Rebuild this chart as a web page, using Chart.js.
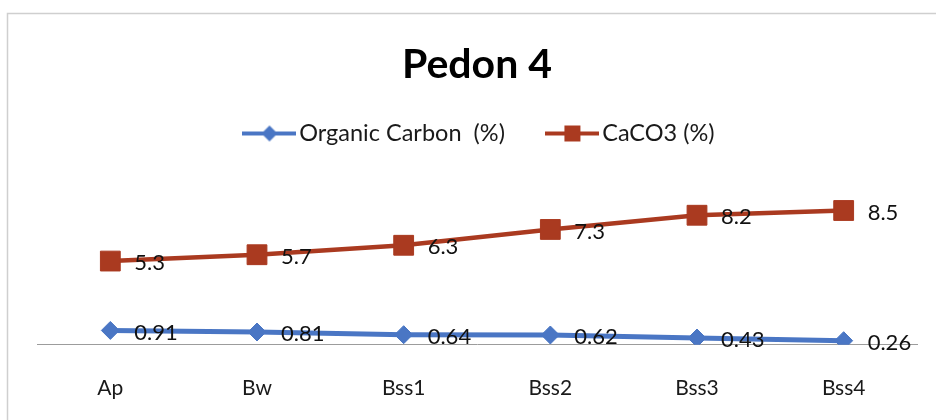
<!DOCTYPE html>
<html>
<head>
<meta charset="utf-8">
<script src="https://cdn.jsdelivr.net/npm/chart.js@4/dist/chart.umd.min.js"></script>
<style>
  html, body { margin: 0; padding: 0; background: #fff; }
  #wrap { position: relative; width: 936px; height: 420px; }
</style>
</head>
<body>
<div id="wrap"><canvas id="myChart"></canvas></div>
<script>
const horizons = ["Ap", "Bw", "Bss1", "Bss2", "Bss3", "Bss4"];
const organicCarbon = [0.91, 0.81, 0.64, 0.62, 0.43, 0.26];
const caco3 = [5.3, 5.7, 6.3, 7.3, 8.2, 8.5];

const blue = "#4a76c4";
const red = "#aa3a20";

// little line + marker picture used as the legend symbol
function legendIcon(color, shape) {
    const c = document.createElement("canvas");
    c.width = 54;
    c.height = 20;
    const g = c.getContext("2d");
    g.strokeStyle = color;
    g.lineWidth = 4;
    g.beginPath();
    g.moveTo(0, 10);
    g.lineTo(54, 10);
    g.stroke();
    g.fillStyle = color;
    g.beginPath();
    if (shape === "diamond") {
        g.moveTo(27, 2); g.lineTo(35, 10); g.lineTo(27, 18); g.lineTo(19, 10);
    } else {
        g.rect(19, 2, 16, 16);
    }
    g.closePath();
    g.fill();
    return c;
}

const valueLabels = {
    id: "valueLabels",
    afterDatasetsDraw(chart) {
        const ctx = chart.ctx;
        ctx.save();
        ctx.font = "22px Lato";
        ctx.fillStyle = "#111";
        ctx.textAlign = "left";
        ctx.textBaseline = "middle";
        chart.data.datasets.forEach((ds, i) => {
            chart.getDatasetMeta(i).data.forEach((pt, j) => {
                ctx.fillText(String(ds.data[j]), pt.x + 24, pt.y + 2);
            });
        });
        ctx.restore();
    }
};

const frame = {
    id: "frame",
    beforeDraw(chart) {
        const ctx = chart.ctx;
        ctx.save();
        ctx.strokeStyle = "#cfcfcf";
        ctx.lineWidth = 1.5;
        ctx.strokeRect(7.5, 13.5, 960, 440);
        ctx.restore();
    }
};

// legend sits a little right of centre in the original
const nudgeLegend = {
    id: "nudgeLegend",
    afterLayout(chart) {
        chart.legend.left += 6;
        chart.legend.right += 6;
    }
};

const icons = [legendIcon(blue, "diamond"), legendIcon(red, "square")];

new Chart("myChart", {
    type: "line",
    data: {
        labels: horizons,
        datasets: [{
            label: "Organic Carbon  (%)",
            data: organicCarbon,
            borderColor: blue,
            backgroundColor: blue,
            borderWidth: 5,
            pointStyle: "rectRot",
            pointRadius: 9,
            pointBorderWidth: 1,
            tension: 0
        }, {
            label: "CaCO3 (%)",
            data: caco3,
            borderColor: red,
            backgroundColor: red,
            borderWidth: 4.5,
            pointStyle: "rect",
            pointRadius: 14,
            pointBorderWidth: 1,
            tension: 0
        }]
    },
    options: {
        responsive: true,
        maintainAspectRatio: false,
        animation: false,
        layout: { padding: { left: 37, right: 19, top: 0, bottom: -12 } },
        scales: {
            x: {
                offset: true,
                grid: { display: false, drawTicks: false },
                border: { display: true, color: "#9c9c9c", width: 1 },
                ticks: {
                    padding: 31,
                    color: "#1a1a1a",
                    font: { family: "Lato", size: 21 }
                }
            },
            y: {
                display: false,
                min: 0,
                max: 12
            }
        },
        plugins: {
            title: {
                display: true,
                text: "Pedon 4",
                color: "#000",
                font: { family: "Lato", size: 41, weight: "bold" },
                padding: { top: 40, bottom: -17 }
            },
            legend: {
                display: true,
                labels: {
                    usePointStyle: true,
                    pointStyleWidth: 36,
                    padding: 49.5,
                    color: "#1a1a1a",
                    font: { family: "Lato", size: 23.5 },
                    generateLabels(chart) {
                        return chart.data.datasets.map((ds, i) => ({
                            text: ds.label,
                            pointStyle: icons[i],
                            fillStyle: ds.borderColor,
                            strokeStyle: ds.borderColor,
                            lineWidth: 0,
                            fontColor: "#1a1a1a",
                            datasetIndex: i
                        }));
                    }
                }
            },
            tooltip: { enabled: false }
        }
    },
    plugins: [frame, nudgeLegend, valueLabels]
});
</script>
</body>
</html>
